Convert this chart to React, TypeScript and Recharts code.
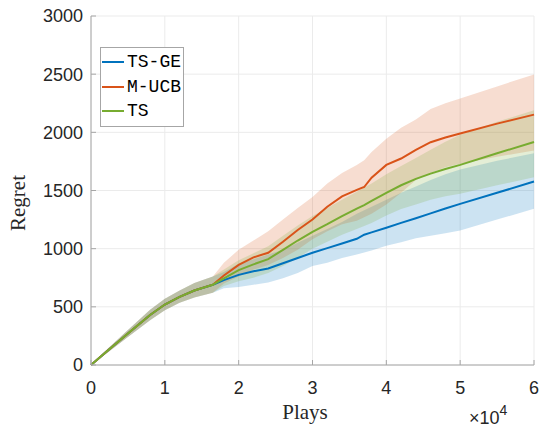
import { ComposedChart, CartesianGrid, XAxis, YAxis, Area, Line } from "recharts";

const plays = [0, 2000, 5000, 8000, 10000, 12000, 14000, 16500, 18000, 20000, 22000, 24000, 26000, 28000, 30000, 32000, 34000, 36000, 37000, 38000, 40000, 42000, 44000, 46000, 48000, 50000, 55000, 60000];

// the three methods are identical up to ~1.65e4 plays
const startMean = [0, 110, 270, 430, 520, 585, 640, 690];
const startLo = [0, 95, 240, 385, 470, 535, 580, 620];
const startHi = [0, 125, 300, 475, 570, 640, 705, 760];

const tsgeMean = [730, 775, 805, 830, 875, 920, 965, 1005, 1045, 1085, 1120, 1140, 1180, 1222, 1262, 1303, 1345, 1385, 1480, 1577];
const tsgeLo = [660, 670, 690, 710, 745, 790, 850, 880, 920, 950, 968, 985, 1025, 1055, 1090, 1110, 1133, 1156, 1250, 1343];
const tsgeHi = [800, 870, 910, 950, 990, 1050, 1110, 1170, 1230, 1300, 1330, 1360, 1420, 1480, 1535, 1590, 1640, 1680, 1755, 1821];

const mucbMean = [770, 860, 925, 965, 1060, 1160, 1250, 1360, 1450, 1505, 1530, 1610, 1720, 1775, 1850, 1915, 1955, 1990, 2075, 2152];
const mucbLo = [700, 760, 820, 860, 920, 990, 1080, 1150, 1210, 1240, 1270, 1300, 1380, 1480, 1590, 1650, 1700, 1730, 1790, 1844];
const mucbHi = [880, 990, 1070, 1150, 1250, 1350, 1445, 1560, 1650, 1720, 1760, 1830, 1945, 2040, 2110, 2200, 2250, 2290, 2395, 2498];

const tsMean = [745, 815, 865, 910, 990, 1070, 1145, 1210, 1280, 1345, 1375, 1410, 1480, 1545, 1600, 1645, 1685, 1720, 1820, 1917];
const tsLo = [680, 720, 750, 790, 850, 920, 1000, 1060, 1120, 1170, 1195, 1220, 1285, 1340, 1380, 1420, 1450, 1471, 1545, 1614];
const tsHi = [820, 900, 960, 1020, 1110, 1200, 1280, 1350, 1420, 1490, 1525, 1560, 1640, 1710, 1780, 1850, 1920, 1980, 2090, 2189];

const xTicks = [0, 10000, 20000, 30000, 40000, 50000, 60000];
const yTicks = [0, 500, 1000, 1500, 2000, 2500, 3000];

const BLUE = "#0072BD";
const ORANGE = "#D95319";
const GREEN = "#77AC30";

const series = [
  { key: "tsge", name: "TS-GE", color: BLUE, mean: tsgeMean, lo: tsgeLo, hi: tsgeHi },
  { key: "mucb", name: "M-UCB", color: ORANGE, mean: mucbMean, lo: mucbLo, hi: mucbHi },
  { key: "ts", name: "TS", color: GREEN, mean: tsMean, lo: tsLo, hi: tsHi },
];

const data = plays.map((p, i) => {
  const row: any = { plays: p };
  series.forEach((s) => {
    const mean = startMean.concat(s.mean);
    const lo = startLo.concat(s.lo);
    const hi = startHi.concat(s.hi);
    row[s.key] = mean[i];
    row[s.key + "Band"] = [lo[i], hi[i]];
  });
  return row;
});

const tickStyle = { fill: "#262626", fontSize: 18, fontFamily: "Liberation Sans, Arial, sans-serif" };
const axisColor = "#a6a6a6";

export default function App() {
  return (
    <div style={{ position: "absolute", left: 0, top: 0, width: 540, height: 430, background: "#fff" }}>
      <ComposedChart width={540} height={430} data={data} margin={{ top: 16, right: 6, left: 0, bottom: 0 }}>
        <CartesianGrid stroke="#ebebeb" xAxisId="bottom" yAxisId="left" />
        <XAxis
          xAxisId="bottom"
          dataKey="plays"
          type="number"
          domain={[0, 60000]}
          ticks={xTicks}
          tickFormatter={(v) => String(v / 10000)}
          height={65}
          tick={tickStyle}
          tickSize={-5}
          tickMargin={21}
          stroke={axisColor}
          interval={0}
        />
        <XAxis
          xAxisId="top"
          orientation="top"
          dataKey="plays"
          type="number"
          domain={[0, 60000]}
          ticks={xTicks}
          height={0}
          tick={false}
          tickSize={-5}
          stroke={axisColor}
        />
        <YAxis
          yAxisId="left"
          type="number"
          domain={[0, 3000]}
          ticks={yTicks}
          width={91}
          tick={tickStyle}
          tickSize={-5}
          tickMargin={13}
          stroke={axisColor}
          interval={0}
        />
        <YAxis
          yAxisId="right"
          orientation="right"
          type="number"
          domain={[0, 3000]}
          ticks={yTicks}
          width={0}
          tick={false}
          tickSize={-5}
          stroke={axisColor}
        />
        {series.map((s) => (
          <Area
            key={s.key + "Band"}
            xAxisId="bottom"
            yAxisId="left"
            type="linear"
            dataKey={s.key + "Band"}
            stroke="none"
            fill={s.color}
            fillOpacity={0.2}
            isAnimationActive={false}
          />
        ))}
        {series.map((s) => (
          <Line
            key={s.key}
            xAxisId="bottom"
            yAxisId="left"
            type="linear"
            dataKey={s.key}
            stroke={s.color}
            strokeWidth={2}
            dot={false}
            isAnimationActive={false}
          />
        ))}
        <text x={305} y={419} textAnchor="middle" fontSize={21} fontFamily="Liberation Serif, serif" fill="#262626">
          Plays
        </text>
        <text
          x={25}
          y={203}
          textAnchor="middle"
          fontSize={21}
          fontFamily="Liberation Serif, serif"
          fill="#262626"
          transform="rotate(-90 25 203)"
        >
          Regret
        </text>
        <text x={469} y={424} fontSize={18} fontFamily="Liberation Sans, Arial, sans-serif" fill="#262626">
          ×10
          <tspan fontSize={14} dy={-9}>4</tspan>
        </text>
      </ComposedChart>
      <div
        style={{
          position: "absolute",
          left: 100,
          top: 47,
          width: 84,
          height: 80,
          border: "1px solid #a6a6a6",
          background: "#fff",
          boxSizing: "border-box",
          fontFamily: "Liberation Mono, monospace",
          fontSize: 18,
          color: "#000",
        }}
      >
        {series.map((s, i) => (
          <div key={s.key} style={{ position: "absolute", left: 1, top: 4 + i * 24.5, height: 20, display: "flex", alignItems: "center" }}>
            <span style={{ display: "inline-block", width: 22, height: 2, background: s.color, marginRight: 3 }} />
            <span>{s.name}</span>
          </div>
        ))}
      </div>
    </div>
  );
}
